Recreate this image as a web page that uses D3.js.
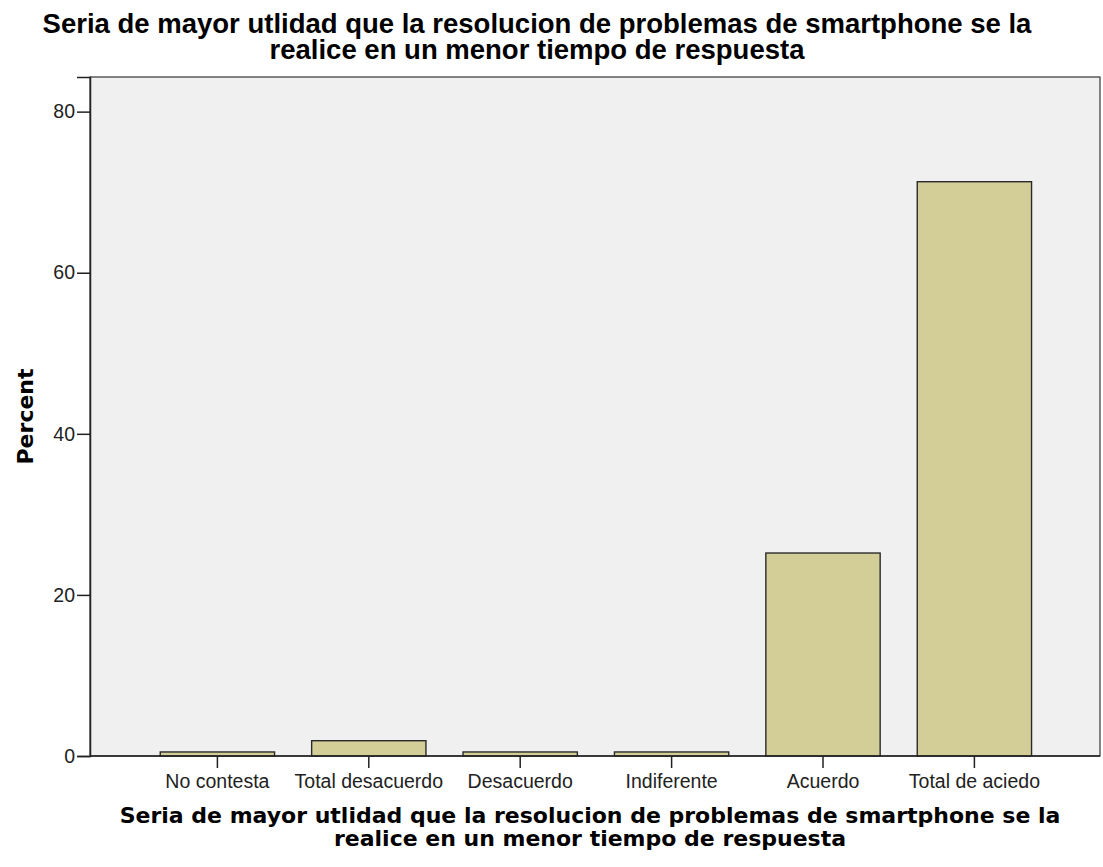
<!DOCTYPE html>
<html>
<head>
<meta charset="utf-8">
<script src="https://cdn.jsdelivr.net/npm/d3@7"></script>
<style>
  body { margin: 0; background: #fff; }
  svg { display: block; }
</style>
</head>
<body>
<div id="chart"></div>
<script>
// datos
const categorias = ['No contesta', 'Total desacuerdo', 'Desacuerdo', 'Indiferente', 'Acuerdo', 'Total de aciedo'];
const porcentajes = [0.5, 1.9, 0.5, 0.5, 25.2, 71.3];
const ticksY = [0, 20, 40, 60, 80];
const tituloLineas = ['Seria de mayor utlidad que la resolucion de problemas de smartphone se la', 'realice en un menor tiempo de respuesta'];
const tituloEjeX = tituloLineas;
const tituloEjeY = 'Percent';

const width = 1103, height = 867;
const plot = { left: 90, right: 1100, top: 77, bottom: 756 };

const svg = d3.select('#chart').append('svg')
  .attr('width', width)
  .attr('height', height);

// fondo del area de grafico
svg.append('rect')
  .attr('x', plot.left)
  .attr('y', plot.top)
  .attr('width', plot.right - plot.left)
  .attr('height', plot.bottom - plot.top)
  .attr('fill', '#f0f0f0')
  .attr('stroke', '#444')
  .attr('stroke-width', 1.3);

const x = d3.scaleBand()
  .domain(categorias)
  .range([141.7, 1050.1])
  .paddingInner(0.245)
  .paddingOuter(0.1225);

const y = d3.scaleLinear()
  .domain([0, 84.3])
  .range([plot.bottom, plot.top]);

// barras
svg.append('g').selectAll('rect')
  .data(categorias)
  .enter().append('rect')
  .attr('x', d => x(d))
  .attr('y', (d, i) => y(porcentajes[i]))
  .attr('width', x.bandwidth())
  .attr('height', (d, i) => y(0) - y(porcentajes[i]))
  .attr('fill', '#d3ce97')
  .attr('stroke', '#2a2a2a')
  .attr('stroke-width', 1.4);

// eje Y
const ejeY = svg.append('g')
  .attr('transform', `translate(${plot.left},0)`)
  .call(d3.axisLeft(y).tickValues(ticksY).tickSize(13).tickPadding(2).tickFormat(d3.format('d')));
ejeY.select('.domain').attr('stroke', '#222').attr('stroke-width', 1.5);
ejeY.selectAll('.tick line').attr('stroke', '#222').attr('stroke-width', 1.5);
ejeY.selectAll('.tick text')
  .attr('font-family', 'Liberation Sans, Arial, sans-serif')
  .attr('font-size', 19.5)
  .attr('fill', '#222');

// eje X
const ejeX = svg.append('g')
  .attr('transform', `translate(0,${plot.bottom})`)
  .call(d3.axisBottom(x).tickSize(12).tickPadding(6).tickSizeOuter(0));
ejeX.select('.domain').attr('d', `M${plot.left},0H${plot.right}`).attr('stroke', '#222').attr('stroke-width', 1.5);
ejeX.selectAll('.tick line').attr('stroke', '#222').attr('stroke-width', 1.5);
ejeX.selectAll('.tick text')
  .attr('font-family', 'Liberation Sans, Arial, sans-serif')
  .attr('font-size', 19.5)
  .attr('fill', '#222');

// titulo
svg.append('text')
  .attr('text-anchor', 'middle')
  .attr('font-family', 'Liberation Sans, Arial, sans-serif')
  .attr('font-weight', 'bold')
  .attr('font-size', 27.5)
  .attr('fill', '#000')
  .selectAll('tspan')
  .data(tituloLineas)
  .enter().append('tspan')
  .attr('x', 537)
  .attr('y', (d, i) => 33 + i * 26)
  .text(d => d);

// titulo eje X
svg.append('text')
  .attr('text-anchor', 'middle')
  .attr('font-family', 'DejaVu Sans, Verdana, sans-serif')
  .attr('font-weight', 'bold')
  .attr('font-size', 22)
  .attr('fill', '#000')
  .selectAll('tspan')
  .data(tituloEjeX)
  .enter().append('tspan')
  .attr('x', 590)
  .attr('y', (d, i) => 823 + i * 23)
  .text(d => d);

// titulo eje Y
svg.append('text')
  .attr('transform', `translate(33,${(plot.top + plot.bottom) / 2}) rotate(-90)`)
  .attr('text-anchor', 'middle')
  .attr('font-family', 'DejaVu Sans, Verdana, sans-serif')
  .attr('font-weight', 'bold')
  .attr('font-size', 22)
  .attr('fill', '#000')
  .text(tituloEjeY);
</script>
</body>
</html>
